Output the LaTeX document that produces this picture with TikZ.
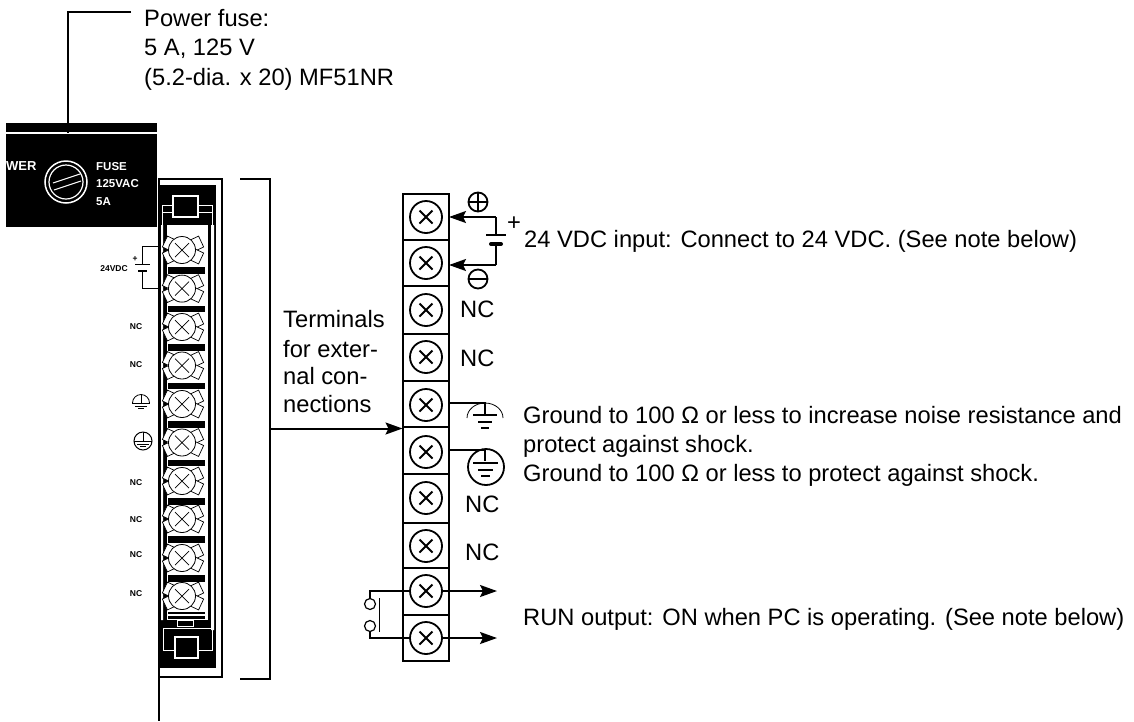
\documentclass[tikz,border=0pt]{standalone}
\usepackage{fontspec}
\setmainfont{Liberation Sans}
\usetikzlibrary{arrows.meta}
\tikzset{
  lead/.style={line width=2pt},
  tip/.style={-{Stealth[length=17pt,width=12pt,inset=3pt]},line width=2pt},
  note/.style={anchor=base west,inner sep=0pt,font=\fontsize{23.7}{28}\selectfont},
  small/.style={anchor=center,inner sep=0pt,font=\bfseries\fontsize{8.5}{10}\selectfont},
  panel/.style={anchor=base west,inner sep=0pt,text=white,font=\bfseries\fontsize{11.5}{14}\selectfont}
}
\begin{document}
\begin{tikzpicture}[x=1pt,y=-1pt]
  \useasboundingbox (0,0) rectangle (1134,721);
  \def\stripX{183}
  \def\blockX{426}
  % power panel
  \fill (6,123) rectangle (157,227);
  \fill[white] (6,132) rectangle (157,134);
  \node[panel,font=\bfseries\fontsize{13}{14}\selectfont] (wer) at (6,170) {WER};
  \draw[white,line width=1.5pt] (66,182) circle (21);
  \draw[white,line width=1.2pt] (66,182) circle (17);
  \draw[white,line width=1pt] (53,183) -- (80,174) (54,190) -- (81,181);
  \node[panel] (fuse) at (96,170) {FUSE};
  \node[panel] (volt) at (96,187) {125VAC};
  \node[panel] (amp) at (96,205) {5A};
  % strip
  \draw[line width=2pt] (159,179) rectangle (222,677);
  \fill (158,185) rectangle (215.5,668);
  \fill[white] (161,225) rectangle (163,620) (214,225) rectangle (211,630);
  \fill[white] (167,225) rectangle (208,620);
  \draw[white,line width=1pt] (162,225) -- (162,205) -- (212,205) -- (212,225) (162,212) -- (212,212);
  \draw[white,line width=1.2pt,fill=black] (173,196) rectangle (198,217);
  \draw[white,line width=1pt] (163,650) -- (163,628) -- (212,628) -- (212,650) -- (163,650);
  \fill (175,637) rectangle (198,658);
  \draw[white,line width=1.2pt] (175,637) rectangle (198,658);
  \draw[white,line width=1pt] (177,620) rectangle (193,626);
  \draw[lead] (159,668) -- (159,721);
  \foreach \Y in {250,288.6,327,365.5,404,442.5,481,519,558,596}
    {
    \foreach \A in {25,155,205,335}
      \draw[line width=.7pt,rotate around={\A:(\stripX,\Y)},fill=white] (\stripX+9,\Y-6) rectangle (\stripX+20,\Y+6);
    \draw[line width=.8pt,fill=white] (\stripX-1,\Y) circle (13.5);
    \draw[line width=.7pt] (\stripX-8,\Y-7) -- (\stripX+6,\Y+7) (\stripX-8,\Y+7) -- (\stripX+6,\Y-7);
    }
  \foreach \Y in {267,305.6,344,382.5,421,459.5,498,536,575}
    \fill (168,\Y) rectangle (205,\Y+6.5);
  \fill (168,612) rectangle (205,614);
  \fill (168,616) rectangle (205,619);
  % labels beside the strip
  \draw[line width=.9pt] (158,246) -- (142,246) -- (142,264);
  \draw[line width=.9pt] (135,264) -- (150,264);
  \draw[line width=2.4pt] (138,271) -- (147,271);
  \draw[line width=.9pt] (142,271) -- (142,288) -- (158,288);
  \node[small] (plus) at (135,259) {+};
  \node[small] (vdc) at (114,269) {24VDC};
  \foreach \Y/\N in {327/nca,365/ncb,483/ncc,520/ncd,555/nce,594/ncf}
    \node[small] (\N) at (136,\Y) {NC};
  \draw[line width=.8pt] (132.5,403) arc (180:360:8.5);
  \draw[line width=.8pt] (141,394) -- (141,403) (132,403) -- (150,403) (135,406) -- (147,406) (138,408.5) -- (144,408.5);
  \draw[line width=1pt] (143,441) circle (9);
  \draw[line width=.8pt] (143,432) -- (143,441) (134,441) -- (152,441) (137,444) -- (149,444) (140,446.5) -- (146,446.5);
  % bracket
  \draw[lead] (240,179) -- (270,179) -- (270,679) -- (240,679);
  \coordinate (brk) at (270,428.5);
  % terminal block
  \draw[line width=2pt] (402.5,194) rectangle (449,661);
  \foreach \Y in {240,286,334,381,427,474,523,568,615}
    \draw[line width=2pt] (402.5,\Y) -- (449,\Y);
  \foreach \Y/\N in {217/ta,263/tb,310/tc,357/td,405/te,452/tf,498/tg,546/th,591/ti,638/tj}
    {
    \node[draw,circle,line width=1.8pt,minimum size=32pt,inner sep=0pt,fill=white] (\N) at (\blockX,\Y) {};
    \draw[line width=1.8pt] (\blockX-6.5,\Y-6.5) -- (\blockX+6.5,\Y+6.5) (\blockX-6.5,\Y+6.5) -- (\blockX+6.5,\Y-6.5);
    }
  \draw[tip] (brk) -- (402.5,428.5);
  % supply
  \coordinate (in) at (449,217);
  \coordinate (out) at (449,265);
  \draw[tip] (496,217) -- (in);
  \draw[tip] (496,265) -- (out);
  \draw[line width=1.6pt] (496,217) -- (496,235) (486,235) -- (506,235);
  \draw[line width=4pt,line cap=round] (491,244) -- (501,244);
  \draw[line width=1.6pt] (496,244) -- (496,265);
  \draw[line width=1.8pt] (478,202) circle (9.5) (468.5,202) -- (487.5,202) (478,192.5) -- (478,211.5);
  \draw[line width=1.8pt] (478,279) circle (9.5) (468.5,279) -- (487.5,279);
  \node[note] (pls) at (507,230) {+};
  % grounds
  \draw[line width=1.6pt] (449,403) -- (485,403) -- (485,415);
  \draw[line width=.8pt] (467,418) arc (180:360:18 and 15);
  \draw[line width=1.6pt] (473,415) -- (497,415) (478,422) -- (492,422) (481,428) -- (489,428);
  \draw[line width=1.6pt] (449,450) -- (485,450) -- (485,461);
  \draw[line width=1.8pt] (486,467) circle (18);
  \draw[line width=1.6pt] (473,463) -- (498,463) (478,470) -- (493,470) (481,476) -- (490,476);
  % run output
  \draw[tip] (ti.east) -- (497,591);
  \draw[tip] (tj.east) -- (497,638);
  \draw[line width=1.6pt] (370,598.5) -- (370,591) -- (ti.west);
  \draw[line width=1.6pt] (370,631.5) -- (370,638) -- (tj.west);
  \draw[line width=.8pt] (379,598) -- (379,632);
  \draw[line width=1.2pt] (370,604) circle (5.5) (370,626) circle (5.5);
  % texts
  \node[note] (f1) at (144,26) {Power fuse:};
  \node[note] (f2) at (144,55) {5 A, 125 V};
  \node[note] (f3) at (144,85) {(5.2-dia. x 20) MF51NR};
  \node[note] (t1) at (283,327) {Terminals};
  \node[note] (t2) at (283,357) {for exter-};
  \node[note] (t3) at (283,384) {nal con-};
  \node[note] (t4) at (283,412) {nections};
  \node[note] (d1) at (524,247) {24 VDC input: Connect to 24 VDC. (See note below)};
  \foreach \X/\Y/\N in {460/317/na,460/366/nb,465/512/nc,465/560/nd}
    \node[note] (\N) at (\X,\Y) {NC};
  \node[note] (g1) at (523,423) {Ground to 100 Ω or less to increase noise resistance and};
  \node[note] (g2) at (523,452) {protect against shock.};
  \node[note] (g3) at (523,481) {Ground to 100 Ω or less to protect against shock.};
  \node[note] (r1) at (523,625) {RUN output: ON when PC is operating. (See note below)};
  % fuse leader
  \draw[lead] (131,12) -- (68,12) -- (68,133);
\end{tikzpicture}
\end{document}
